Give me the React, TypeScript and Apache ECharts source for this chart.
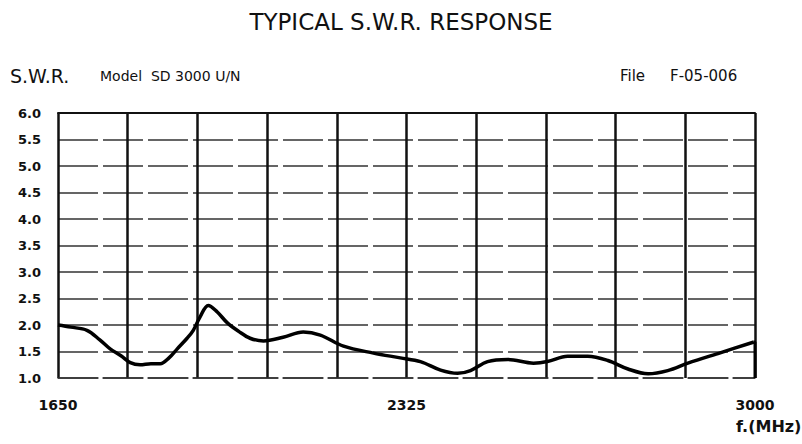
import React, { useEffect, useRef } from "react";
import * as echarts from "echarts";

const freqs = [1650, 1675, 1706, 1731, 1751, 1772, 1790, 1809, 1830, 1848, 1865, 1881, 1900, 1912, 1925, 1941, 1958, 1978, 2000, 2022, 2048, 2086, 2125, 2158, 2203, 2261, 2313, 2352, 2391, 2424, 2449, 2482, 2521, 2571, 2598, 2637, 2676, 2715, 2754, 2793, 2831, 2870, 2934, 2998];
const swr = [2.0, 1.96, 1.9, 1.72, 1.55, 1.42, 1.29, 1.25, 1.27, 1.27, 1.38, 1.55, 1.75, 1.9, 2.15, 2.37, 2.25, 2.04, 1.88, 1.75, 1.70, 1.77, 1.87, 1.81, 1.60, 1.47, 1.38, 1.31, 1.15, 1.09, 1.14, 1.31, 1.35, 1.28, 1.31, 1.41, 1.41, 1.33, 1.17, 1.08, 1.14, 1.28, 1.48, 1.68];
const endDrop = [[2998, 1.68], [3000, 1.68], [3000, 1.0]];
const xLabels = [1650, 2325, 3000];
const gridDivisions = 10;

const FONT = "'DejaVu Sans', sans-serif";

export default function App() {
  const ref = useRef<HTMLDivElement>(null);
  useEffect(() => {
    document.body.style.margin = "0";
    const chart = echarts.init(ref.current!, null, { renderer: "svg" });
    chart.setOption({
      animation: false,
      backgroundColor: "#fff",
      grid: { left: 58, right: 47, top: 113, bottom: 66 },
      graphic: [
        { type: "text", left: "center", top: 10, style: { text: "TYPICAL S.W.R. RESPONSE", font: `23px ${FONT}`, fill: "#111" } },
        { type: "text", left: 10, top: 66, style: { text: "S.W.R.", font: `19px ${FONT}`, fill: "#111" } },
        { type: "text", left: 100, top: 69, style: { text: "Model  SD 3000 U/N", font: `14px ${FONT}`, fill: "#111" } },
        { type: "text", left: 620, top: 68, style: { text: "File", font: `15px ${FONT}`, fill: "#111" } },
        { type: "text", left: 670, top: 68, style: { text: "F-05-006", font: `15px ${FONT}`, fill: "#111" } },
        { type: "text", left: 736, top: 418, style: { text: "f.(MHz)", font: `bold 16px ${FONT}`, fill: "#111" } },
      ],
      xAxis: [
        {
          type: "value",
          min: 1650,
          max: 3000,
          axisLine: { show: true, lineStyle: { color: "#333", width: 1.5, type: [40, 5] } },
          axisTick: { show: false },
          splitLine: { show: false },
          axisLabel: {
            customValues: xLabels,
            formatter: (v: number) => String(v),
            margin: 20,
            color: "#111",
            fontWeight: "bold",
            fontSize: 14,
            fontFamily: FONT,
          },
        },
        {
          type: "value",
          min: 0,
          max: gridDivisions,
          interval: 1,
          position: "top",
          axisLine: { show: true, lineStyle: { color: "#111", width: 2 } },
          axisTick: { show: false },
          axisLabel: { show: false },
          splitLine: { show: true, lineStyle: { color: "#111", width: 2.5 } },
        },
      ],
      yAxis: {
        type: "value",
        min: 1,
        max: 6,
        interval: 0.5,
        axisLine: { show: false },
        axisTick: { show: false },
        axisLabel: {
          formatter: (v: number) => v.toFixed(1),
          margin: 17,
          color: "#111",
          fontWeight: "bold",
          fontSize: 13,
          fontFamily: FONT,
        },
        splitLine: { show: true, lineStyle: { color: "#333", width: 1.5, type: [40, 5] } },
      },
      series: [
        {
          type: "line",
          xAxisIndex: 0,
          data: freqs.map((f, i) => [f, swr[i]]),
          smooth: 0.35,
          showSymbol: false,
          lineStyle: { color: "#000", width: 3.5 },
          z: 5,
        },
        {
          type: "line",
          xAxisIndex: 0,
          data: endDrop,
          showSymbol: false,
          lineStyle: { color: "#000", width: 3 },
          z: 5,
        },
      ],
    });
    return () => chart.dispose();
  }, []);
  return <div ref={ref} style={{ width: 802, height: 444 }} />;
}
